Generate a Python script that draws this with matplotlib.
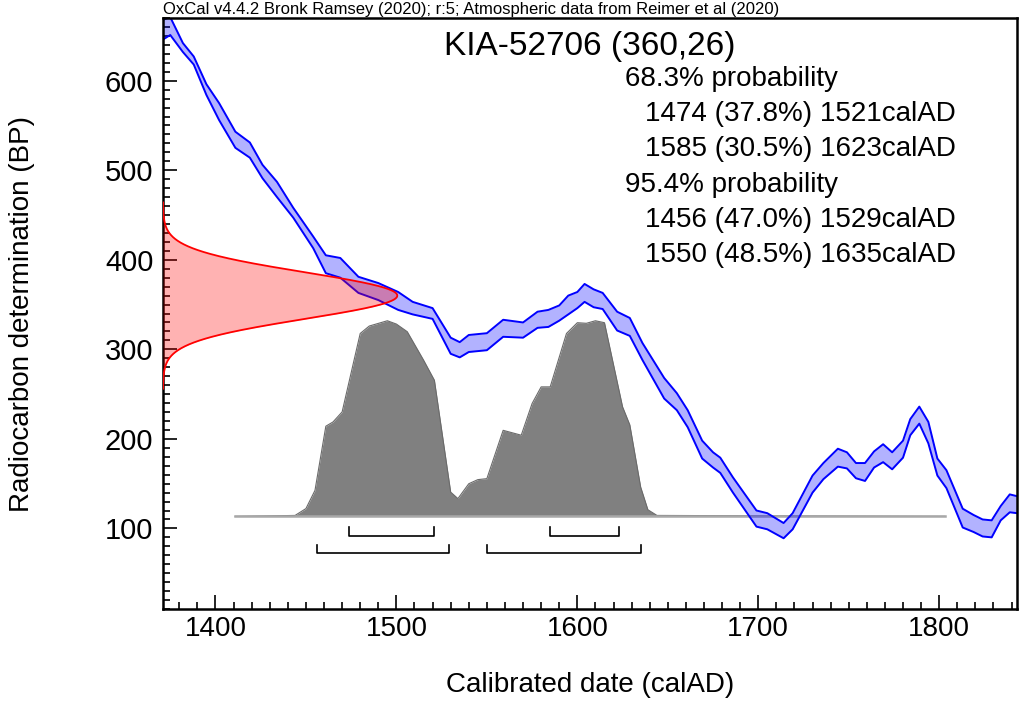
import numpy as np
import matplotlib
matplotlib.use("Agg")
import matplotlib.pyplot as plt
from matplotlib.ticker import MultipleLocator

plt.rcParams['font.family'] = ['Liberation Sans', 'DejaVu Sans']

# calibration curve (IntCal20 band edges)
cal_year = [1371, 1375, 1382, 1388, 1395, 1402, 1411, 1419, 1426, 1434, 1443, 1454, 1461, 1469, 1479,
            1490, 1501, 1509, 1520, 1530, 1535, 1540, 1550, 1559, 1570, 1578, 1584, 1590, 1595, 1600,
            1604, 1609, 1614, 1622, 1629, 1636, 1648, 1655, 1661, 1669, 1675, 1679, 1686, 1699, 1705,
            1714, 1719, 1730, 1736, 1744, 1749, 1754, 1759, 1764, 1769, 1774, 1780, 1784, 1789, 1794,
            1799, 1804, 1813, 1819, 1824, 1829, 1834, 1839, 1843]
curve_hi = [668, 671, 642, 627, 596, 575, 543, 531, 506, 487, 458, 426, 405, 402, 381,
            374, 364, 353, 346, 313, 308, 316, 318, 333, 330, 342, 344, 349, 360, 364,
            373, 367, 363, 342, 335, 307, 268, 251, 232, 198, 185, 179, 157, 120, 117,
            106, 117, 159, 173, 189, 185, 173, 173, 186, 194, 185, 198, 222, 236, 219,
            178, 165, 122, 115, 110, 109, 125, 138, 136]
curve_lo = [646, 651, 632, 618, 584, 556, 525, 514, 491, 470, 447, 413, 385, 380, 363,
            355, 344, 339, 334, 295, 291, 297, 299, 314, 313, 324, 325, 332, 339, 346,
            353, 347, 345, 321, 315, 288, 245, 232, 213, 178, 168, 162, 140, 102, 99,
            89, 99, 140, 155, 169, 167, 156, 153, 168, 174, 166, 179, 204, 217, 195,
            159, 145, 101, 96, 91, 90, 109, 118, 117]

# calibrated probability (relative)
hist_year = [1411, 1444, 1450, 1455, 1461, 1465, 1470, 1480, 1485, 1495, 1500, 1506, 1515, 1521, 1530,
             1534, 1540, 1545, 1550, 1559, 1569, 1575, 1580, 1585, 1594, 1600, 1605, 1610, 1615, 1625,
             1629, 1635, 1639, 1644, 1803]
hist_prob = [0, 0.005, 0.04, 0.133, 0.461, 0.483, 0.534, 0.935, 0.973, 1.0, 0.983, 0.944, 0.799, 0.696, 0.124,
             0.091, 0.167, 0.188, 0.193, 0.44, 0.415, 0.577, 0.662, 0.662, 0.935, 0.99, 0.987, 1.0, 0.99, 0.56,
             0.468, 0.15, 0.034, 0.005, 0]

# measurement
c14_age = 360
c14_err = 26
sample = "KIA-52706"

# ranges
range_68 = [(1474, 1521), (1585, 1623)]
range_95 = [(1456, 1529), (1550, 1635)]
pct_68 = [37.8, 30.5]
pct_95 = [47.0, 48.5]

xmin, xmax = 1371, 1843
ymin, ymax = 10, 670

fig = plt.figure(figsize=(10.21, 7.02), dpi=100)
ax = fig.add_axes([163/1021, 1-609/702, (1017-163)/1021, (609-18)/702])
ax.set_xlim(xmin, xmax)
ax.set_ylim(ymin, ymax)

# probability distribution (gray)
base = 113.4
hscale = 218.5
hp = base + hscale*np.array(hist_prob)
ax.fill_between(hist_year, base, hp, color='#808080', lw=0, zorder=1)
ax.plot(hist_year, hp, color='#6a6a6a', lw=0.8, zorder=1.1)
ax.plot([hist_year[0], hist_year[-1]], [base, base], color='#a8a8a8', lw=1.8, zorder=1.2)

# calibration curve band
ax.fill_between(cal_year, curve_lo, curve_hi, color=(0, 0, 1, 0.3), lw=0, zorder=2)
ax.plot(cal_year, curve_hi, color='#0000ff', lw=1.4, zorder=2.1)
ax.plot(cal_year, curve_lo, color='#0000ff', lw=1.4, zorder=2.1)

# radiocarbon measurement gaussian
bp = np.linspace(c14_age - 4*c14_err, c14_age + 4*c14_err, 400)
g = np.exp(-0.5*((bp - c14_age)/c14_err)**2)
gx = xmin + 129.5*g
ax.fill_betweenx(bp, xmin, gx, color=(1, 0, 0, 0.3), lw=0, zorder=3)
ax.plot(gx, bp, color='#ff0000', lw=1.3, zorder=3.1)

# range brackets
for rng, yb in [(range_68, 92), (range_95, 72)]:
    for a, b in rng:
        ax.plot([a, a, b, b], [yb + 10, yb, yb, yb + 10], color='black', lw=1.2, zorder=4)

# texts
ax.text(0.5, 1 - (55-18)/591, f"{sample} ({c14_age},{c14_err})", transform=ax.transAxes,
        ha='center', va='baseline', fontsize=24)
lines = [("68.3% probability", 0)]
for (a, b), p in zip(range_68, pct_68):
    lines.append((f"{a} ({p:.1f}%) {b}calAD", 1))
lines.append(("95.4% probability", 0))
for (a, b), p in zip(range_95, pct_95):
    lines.append((f"{a} ({p:.1f}%) {b}calAD", 1))
for i, (s, ind) in enumerate(lines):
    px = 625 + 20*ind
    py = 86 + 35.2*i
    fig.text(px/1021, 1 - py/702, s, ha='left', va='baseline', fontsize=20)

fig.text(163/1021, 1 - 14/702, "OxCal v4.4.2 Bronk Ramsey (2020); r:5; Atmospheric data from Reimer et al (2020)",
         ha='left', va='baseline', fontsize=12)

ax.set_xlabel("Calibrated date (calAD)", fontsize=20, labelpad=22)
ax.set_ylabel("Radiocarbon determination (BP)", fontsize=20, labelpad=50)

ax.xaxis.set_major_locator(MultipleLocator(100))
ax.xaxis.set_minor_locator(MultipleLocator(10))
ax.yaxis.set_major_locator(MultipleLocator(100))
ax.yaxis.set_minor_locator(MultipleLocator(10))
ax.tick_params(which='both', direction='in', top=False, right=False, width=1.2)
ax.tick_params(which='major', length=10)
ax.tick_params(which='minor', length=5)
ax.tick_params(axis='x', labelsize=20, pad=5)
ax.tick_params(axis='y', labelsize=21, pad=7)
for sp in ax.spines.values():
    sp.set_linewidth(1.8)

fig.savefig("out.png", dpi=100)
